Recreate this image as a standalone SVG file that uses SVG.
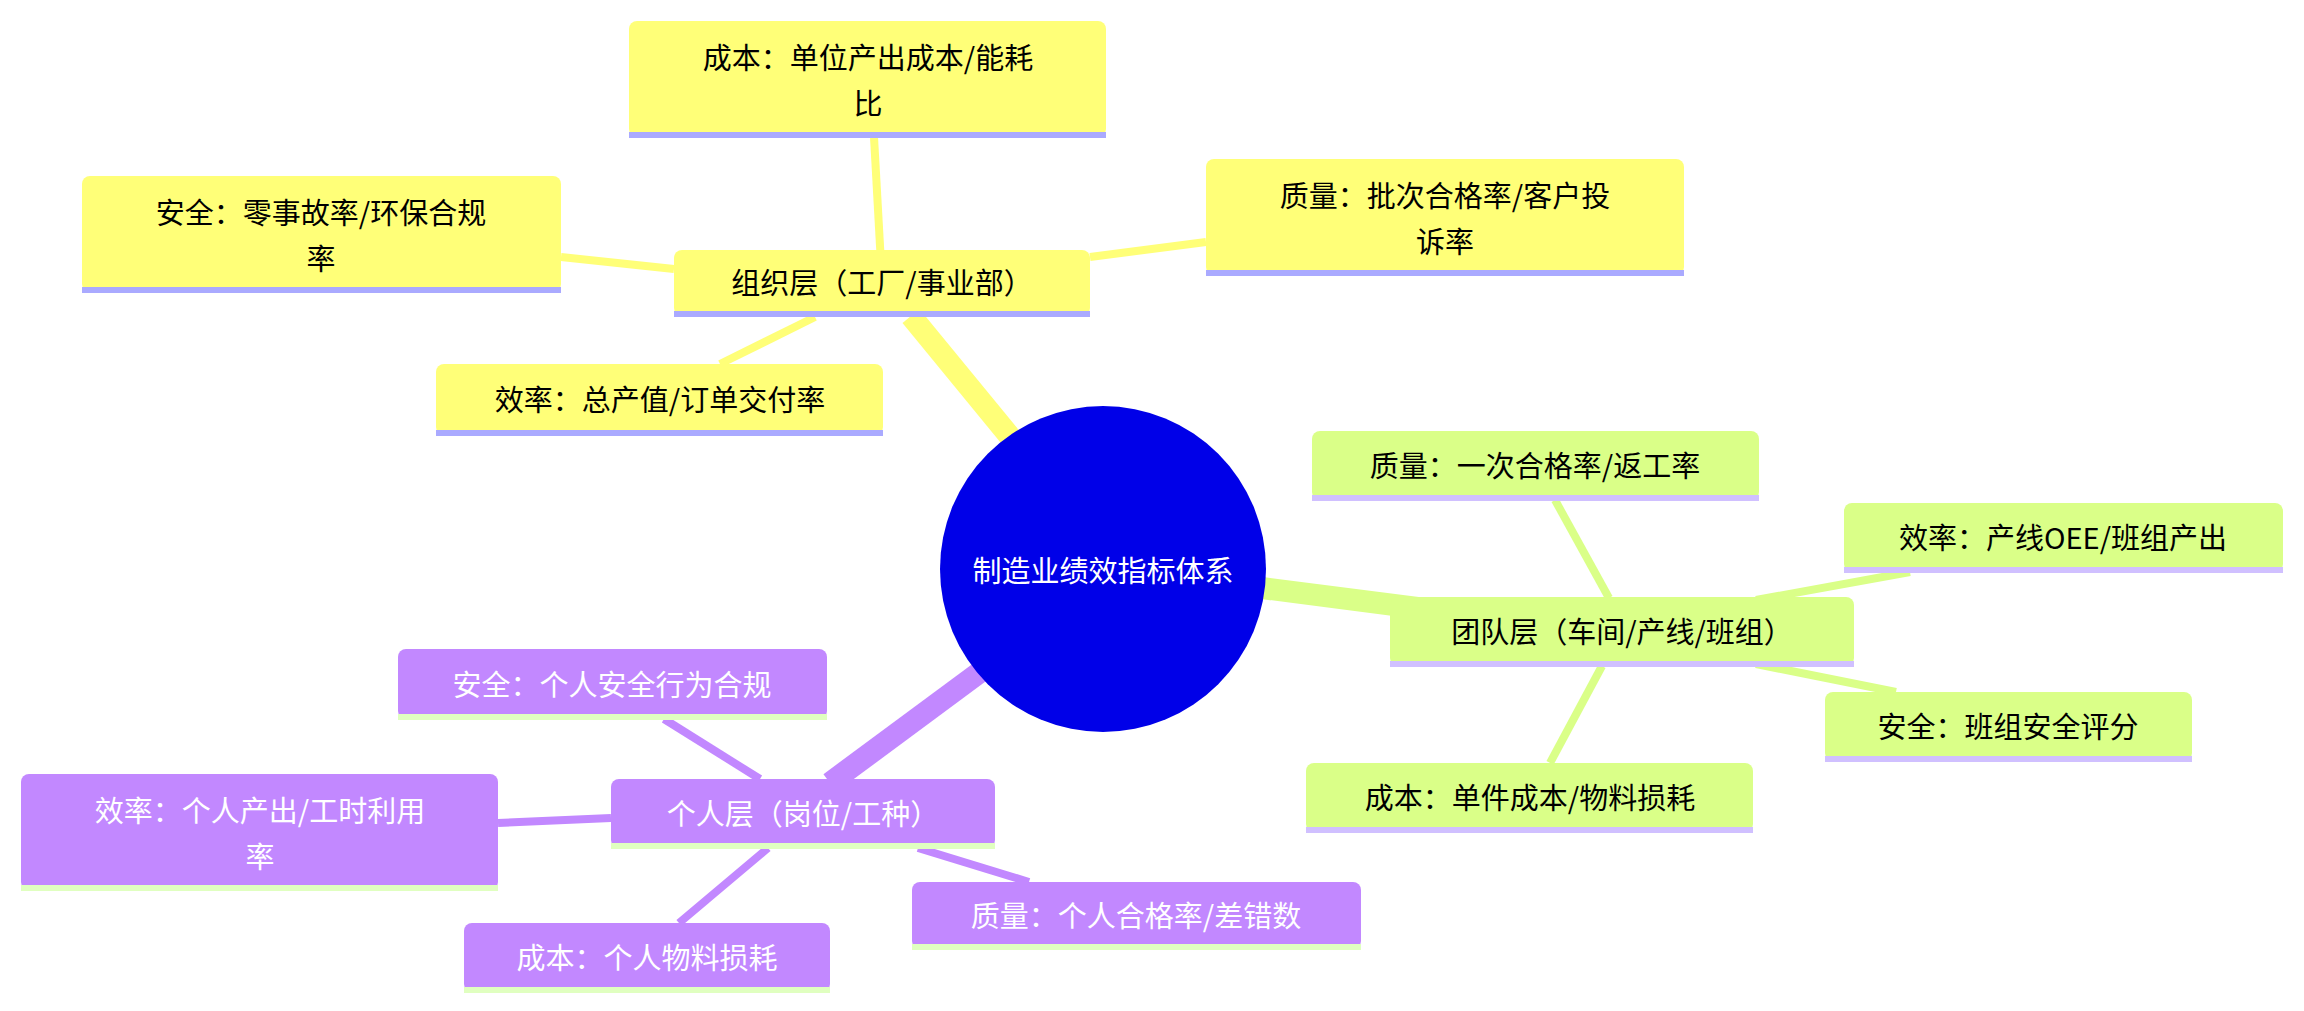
<svg xmlns="http://www.w3.org/2000/svg" width="2304" height="1011" viewBox="0 0 2304 1011">
<style>
text{font-family:"Noto Sans CJK SC","Noto Sans",sans-serif;font-size:29px;text-anchor:middle;dominant-baseline:central}
.y rect.b{fill:#ffff78}.y rect.u{fill:#aaaaff}
.g rect.b{fill:#daff88}.g rect.u{fill:#d0c0ff}
.p rect.b{fill:#c288ff}.p rect.u{fill:#e0ffc0}
.p text{fill:#fff}
.ey{stroke:#ffff78}.eg{stroke:#daff88}.ep{stroke:#c288ff}
</style>
<rect width="2304" height="1011" fill="#fff"/>
<g id="edges" stroke-linecap="butt" fill="none">
<line class="ey" x1="1025" y1="455" x2="911" y2="316" stroke-width="22"/>
<line class="eg" x1="1262" y1="588" x2="1433" y2="610" stroke-width="22"/>
<line class="ep" x1="980" y1="672" x2="830" y2="783" stroke-width="22"/>
<g stroke-width="8">
<line class="ey" x1="882" y1="282" x2="874" y2="137"/>
<line class="ey" x1="561" y1="257" x2="674" y2="269"/>
<line class="ey" x1="1090" y1="257" x2="1206" y2="242"/>
<line class="ey" x1="815" y1="317" x2="720" y2="364"/>
<line class="eg" x1="1609" y1="598" x2="1555" y2="500"/>
<line class="eg" x1="1756" y1="600" x2="1910" y2="572"/>
<line class="eg" x1="1756" y1="664" x2="1896" y2="692"/>
<line class="eg" x1="1602" y1="666" x2="1550" y2="763"/>
<line class="ep" x1="760" y1="779" x2="664" y2="719"/>
<line class="ep" x1="611" y1="818" x2="498" y2="823"/>
<line class="ep" x1="768" y1="848" x2="679" y2="923"/>
<line class="ep" x1="918" y1="848" x2="1029" y2="882"/>
</g>
</g>
<g id="root"><circle cx="1103" cy="569" r="163" fill="#0000e8"/><text x="1103" y="569" fill="#fff">制造业绩效指标体系</text></g>
<g id="org" class="y"><rect class="b" x="674" y="250" width="416" height="66" rx="8"/><rect class="u" x="674" y="311" width="416" height="6"/><text x="882" y="281">组织层（工厂/事业部）</text></g>
<g id="org-cost" class="y"><rect class="b" x="629" y="21" width="477" height="116" rx="8"/><rect class="u" x="629" y="132" width="477" height="6"/><text x="868" y="56">成本：单位产出成本/能耗</text><text x="868" y="102">比</text></g>
<g id="org-safe" class="y"><rect class="b" x="82" y="176" width="479" height="116" rx="8"/><rect class="u" x="82" y="287" width="479" height="6"/><text x="321" y="211">安全：零事故率/环保合规</text><text x="321" y="257">率</text></g>
<g id="org-qual" class="y"><rect class="b" x="1206" y="159" width="478" height="116" rx="8"/><rect class="u" x="1206" y="270" width="478" height="6"/><text x="1445" y="194">质量：批次合格率/客户投</text><text x="1445" y="240">诉率</text></g>
<g id="org-eff" class="y"><rect class="b" x="436" y="364" width="447" height="71" rx="8"/><rect class="u" x="436" y="430" width="447" height="6"/><text x="660" y="398">效率：总产值/订单交付率</text></g>
<g id="team" class="g"><rect class="b" x="1390" y="597" width="464" height="69" rx="8"/><rect class="u" x="1390" y="661" width="464" height="6"/><text x="1622" y="630">团队层（车间/产线/班组）</text></g>
<g id="team-qual" class="g"><rect class="b" x="1312" y="431" width="447" height="69" rx="8"/><rect class="u" x="1312" y="495" width="447" height="6"/><text x="1535" y="464">质量：一次合格率/返工率</text></g>
<g id="team-eff" class="g"><rect class="b" x="1844" y="503" width="439" height="69" rx="8"/><rect class="u" x="1844" y="567" width="439" height="6"/><text x="2063" y="536">效率：产线OEE/班组产出</text></g>
<g id="team-safe" class="g"><rect class="b" x="1825" y="692" width="367" height="69" rx="8"/><rect class="u" x="1825" y="756" width="367" height="6"/><text x="2008" y="725">安全：班组安全评分</text></g>
<g id="team-cost" class="g"><rect class="b" x="1306" y="763" width="447" height="69" rx="8"/><rect class="u" x="1306" y="827" width="447" height="6"/><text x="1530" y="796">成本：单件成本/物料损耗</text></g>
<g id="ind" class="p"><rect class="b" x="611" y="779" width="384" height="69" rx="8"/><rect class="u" x="611" y="843" width="384" height="6"/><text x="803" y="812">个人层（岗位/工种）</text></g>
<g id="ind-safe" class="p"><rect class="b" x="398" y="649" width="429" height="70" rx="8"/><rect class="u" x="398" y="714" width="429" height="6"/><text x="612" y="683">安全：个人安全行为合规</text></g>
<g id="ind-eff" class="p"><rect class="b" x="21" y="774" width="477" height="116" rx="8"/><rect class="u" x="21" y="885" width="477" height="6"/><text x="260" y="809">效率：个人产出/工时利用</text><text x="260" y="855">率</text></g>
<g id="ind-cost" class="p"><rect class="b" x="464" y="923" width="366" height="69" rx="8"/><rect class="u" x="464" y="987" width="366" height="6"/><text x="647" y="956">成本：个人物料损耗</text></g>
<g id="ind-qual" class="p"><rect class="b" x="912" y="882" width="449" height="67" rx="8"/><rect class="u" x="912" y="944" width="449" height="6"/><text x="1136" y="914">质量：个人合格率/差错数</text></g>
</svg>
